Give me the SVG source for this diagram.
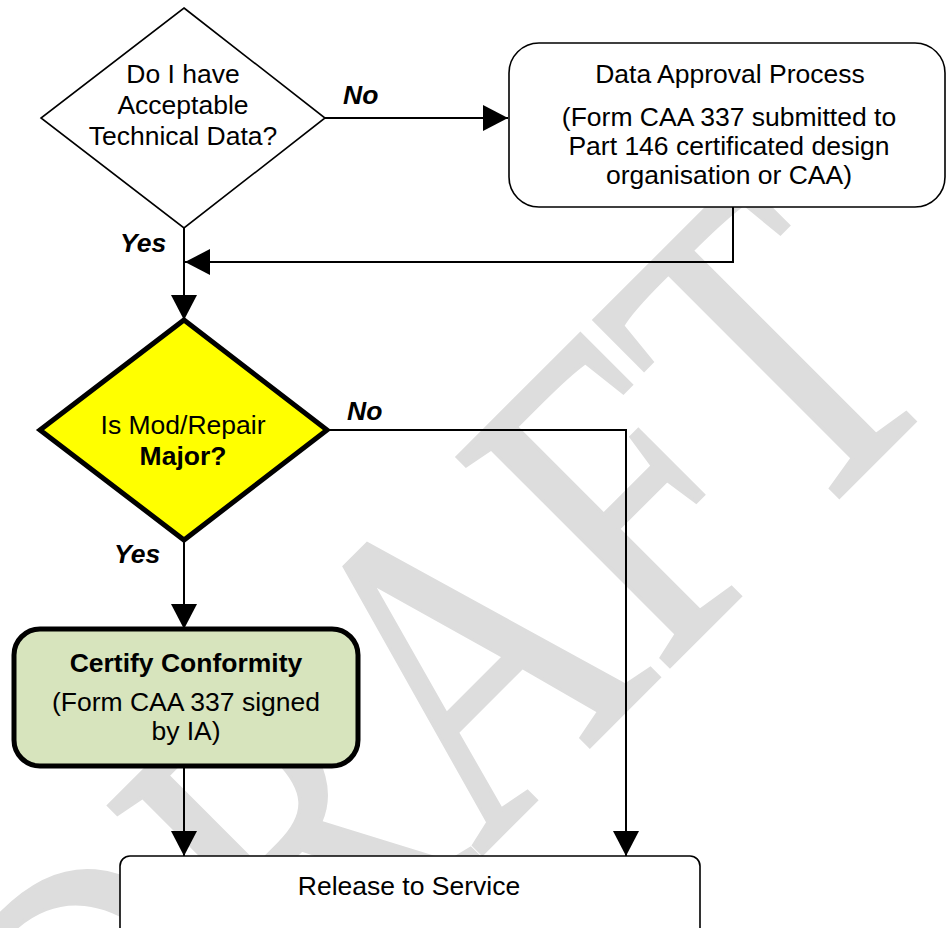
<svg xmlns="http://www.w3.org/2000/svg" width="947" height="928" viewBox="0 0 947 928">
  <style>
    .t { font-family: "Liberation Sans", Arial, sans-serif; font-size: 26.5px; fill: #000; text-anchor: middle; }
    .b { font-weight: bold; }
    .lbl { font-family: "Liberation Sans", Arial, sans-serif; font-size: 26.5px; font-weight: bold; font-style: italic; fill: #000; }
    .wm { font-family: "Liberation Serif", "Times New Roman", serif; font-size: 455px; fill: #dddddd; stroke: #dddddd; stroke-width: 4; }
    .conn { fill: none; stroke: #000; stroke-width: 2; }
    .thin { fill: #fff; stroke: #000; stroke-width: 1.6; }
    .thick { stroke: #000; stroke-width: 5; stroke-linejoin: miter; }
  </style>
  <defs>
    <marker id="arr" markerUnits="userSpaceOnUse" markerWidth="26" markerHeight="26" refX="25" refY="13" orient="auto">
      <path d="M0,0 L25,13 L0,26 Z" fill="#000"/>
    </marker>
    <clipPath id="clipBox1">
      <rect x="509" y="43" width="436" height="146"/>
    </clipPath>
  </defs>
  <rect x="0" y="0" width="947" height="928" fill="#fff"/>

  <g id="watermark">
    <text class="wm" transform="translate(131,1205) rotate(-45) scale(0.78,1)">DRAFT</text>
  </g>

  <g id="connectors">
    <line class="conn" x1="325" y1="118" x2="508" y2="118" marker-end="url(#arr)"/>
    <polyline class="conn" points="733,207 733,262 185,262" marker-end="url(#arr)"/>
    <line class="conn" x1="184" y1="228" x2="184" y2="320" marker-end="url(#arr)"/>
    <polyline class="conn" points="327,430 626,430 626,856" marker-end="url(#arr)"/>
    <line class="conn" x1="184" y1="540" x2="184" y2="629" marker-end="url(#arr)"/>
    <line class="conn" x1="184" y1="766" x2="184" y2="856" marker-end="url(#arr)"/>
    <text class="lbl" x="343" y="104">No</text>
    <text class="lbl" x="120" y="252">Yes</text>
    <text class="lbl" x="347" y="420">No</text>
    <text class="lbl" x="114" y="563">Yes</text>
  </g>

  <g id="node-technical-data">
    <polygon class="thin" points="184,8 325,118 184,228 41,118"/>
    <text class="t" x="183" y="83">Do I have</text>
    <text class="t" x="183" y="114">Acceptable</text>
    <text class="t" x="183" y="145">Technical Data?</text>
  </g>

  <g id="node-data-approval">
    <rect class="thin" x="509" y="43" width="436" height="164" rx="30" ry="30"/>
    <g clip-path="url(#clipBox1)">
      <text class="t" x="730" y="83">Data Approval Process</text>
      <text class="t" x="729" y="126">(Form CAA 337 submitted to</text>
      <text class="t" x="729" y="155">Part 146 certificated design</text>
      <text class="t" x="729" y="184">organisation or CAA)</text>
    </g>
  </g>

  <g id="node-major">
    <polygon class="thick" fill="#ffff00" points="184,320 327,430 184,540 40,430"/>
    <text class="t" x="183" y="434">Is Mod/Repair</text>
    <text class="t b" x="183" y="465">Major?</text>
  </g>

  <g id="node-certify">
    <rect class="thick" fill="#d7e4bd" x="14" y="629" width="344" height="137" rx="26" ry="26"/>
    <text class="t b" x="186" y="672">Certify Conformity</text>
    <text class="t" x="186" y="711">(Form CAA 337 signed</text>
    <text class="t" x="186" y="740">by IA)</text>
  </g>

  <g id="node-release">
    <rect class="thin" x="120" y="856" width="580" height="100" rx="10" ry="10"/>
    <text class="t" x="409" y="895">Release to Service</text>
  </g>
</svg>
